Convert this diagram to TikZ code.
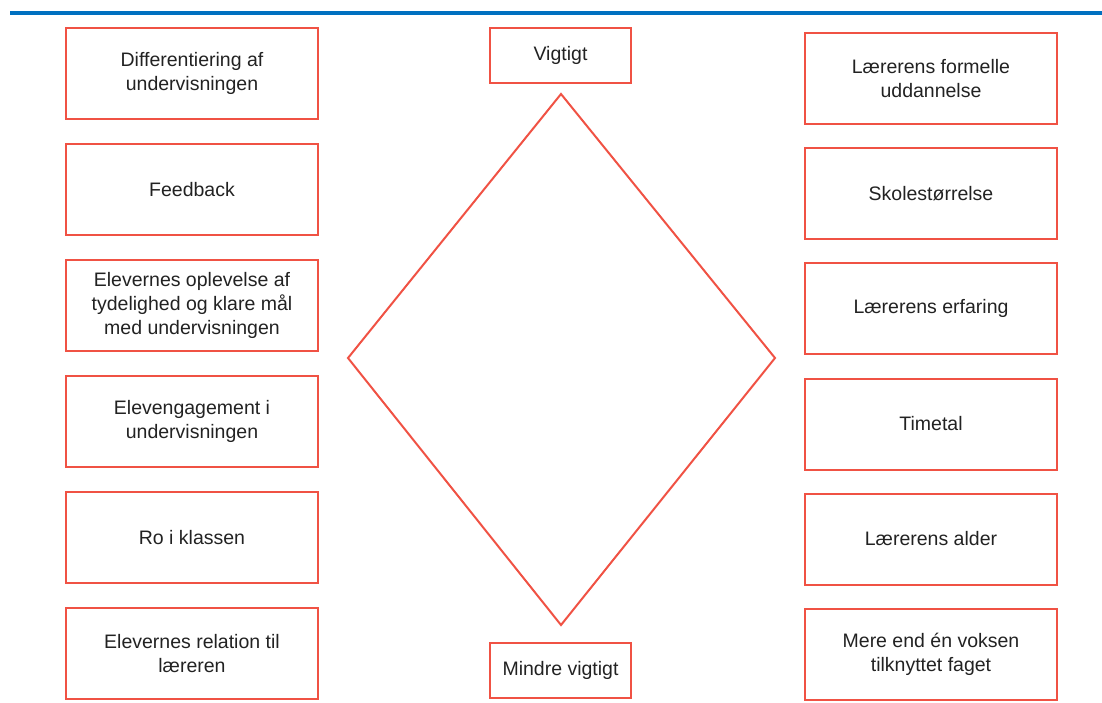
\documentclass[tikz,border=0pt]{standalone}
\usepackage{fontspec}
\setmainfont{Liberation Sans}
\definecolor{boxred}{RGB}{240,82,68}
\definecolor{topblue}{RGB}{0,112,192}
\definecolor{labelgray}{RGB}{34,34,34}
\tikzset{
  factor/.style={draw=boxred, line width=2pt, minimum width=252pt, minimum height=91pt,
                 align=center, inner sep=2pt, text=labelgray},
  rank/.style={draw=boxred, line width=2pt, minimum width=141pt, minimum height=55pt,
               align=center, inner sep=2pt, text=labelgray}
}
\begin{document}
\begin{tikzpicture}[x=1pt,y=-1pt]
\fontsize{19.5}{24}\selectfont
\useasboundingbox (0,0) rectangle (1102,702);
\draw[topblue, line width=4pt] (10,13) -- (1102,13);

% left column
\node[factor] (diff) at (192,73.5) {Differentiering af\\undervisningen};
\node[factor] (feedback) at (192,189.5) {Feedback};
\node[factor] (tydelig) at (192,305.5) {Elevernes oplevelse af\\tydelighed og klare mål\\med undervisningen};
\node[factor] (engage) at (192,421.5) {Elevengagement i\\undervisningen};
\node[factor] (ro) at (192,537.5) {Ro i klassen};
\node[factor] (relation) at (192,653.5) {Elevernes relation til\\læreren};

% right column
\node[factor] (uddan) at (931,78.5) {Lærerens formelle\\uddannelse};
\node[factor] (skole) at (931,193.5) {Skolestørrelse};
\node[factor] (erfaring) at (931,308.5) {Lærerens erfaring};
\node[factor] (timetal) at (931,424) {Timetal};
\node[factor] (alder) at (931,539) {Lærerens alder};
\node[factor] (voksen) at (931,654) {Mere end én voksen\\tilknyttet faget};

% scale
\node[rank] (top) at (560.5,55.5) {Vigtigt};
\node[rank] (bottom) at (560.5,670) {Mindre vigtigt};
\draw[boxred, line width=2pt, line join=miter]
  (561,94) -- (775,358) -- (561,625) -- (348,358) -- cycle;
\end{tikzpicture}
\end{document}
